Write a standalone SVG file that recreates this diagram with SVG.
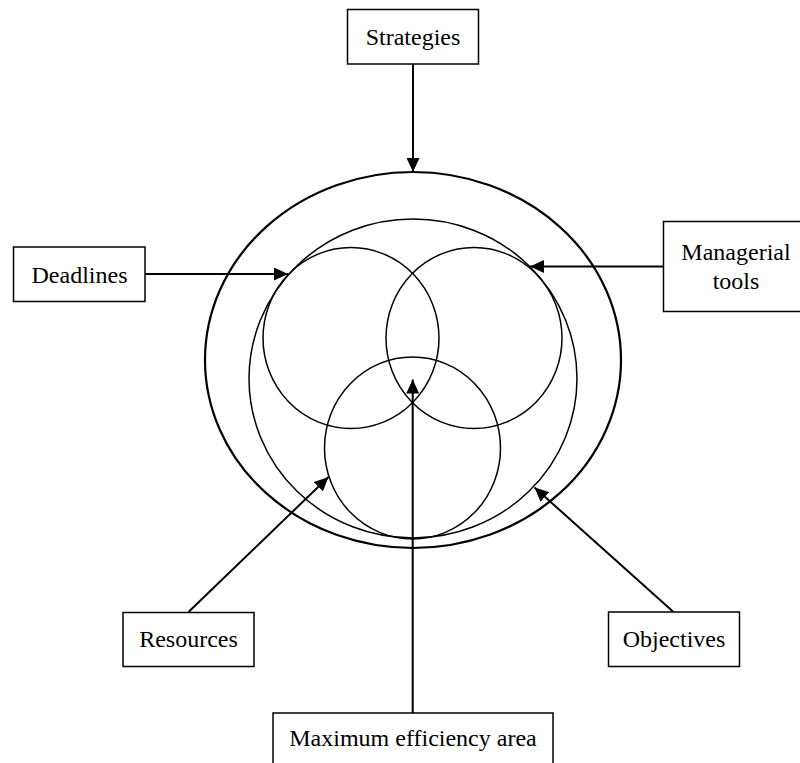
<svg xmlns="http://www.w3.org/2000/svg" width="800" height="763" viewBox="0 0 800 763">
<style>
.box{fill:#ffffff;stroke:#000;stroke-width:1.5}
.lbl{font-family:'Liberation Serif','Times New Roman',serif;font-size:24px;fill:#000;text-anchor:middle}
.c{fill:none;stroke:#000;stroke-width:1.5}
.outer{fill:none;stroke:#000;stroke-width:2.2}
.conn{fill:none;stroke:#000;stroke-width:2;marker-end:url(#ah)}
</style>
<defs>
<marker id="ah" markerUnits="userSpaceOnUse" markerWidth="14" markerHeight="13" refX="14" refY="6.5" orient="auto">
<path d="M0,0 L14,6.5 L0,13 z" fill="#000"/>
</marker>
</defs>
<rect width="800" height="763" fill="#ffffff"/>
<g id="circles">
<ellipse class="outer" cx="413" cy="360" rx="208" ry="188"/>
<ellipse class="c" cx="413" cy="378.5" rx="164" ry="159.5"/>
<ellipse class="c" cx="351" cy="338" rx="88" ry="90.5"/>
<ellipse class="c" cx="474" cy="338" rx="88" ry="90.5"/>
<ellipse class="c" cx="412.5" cy="448" rx="88" ry="91"/>
</g>
<g id="connectors">
<line class="conn" x1="413" y1="64" x2="413" y2="172"/>
<line class="conn" x1="145" y1="274" x2="288" y2="274"/>
<line class="conn" x1="663" y1="266.5" x2="530" y2="266.5"/>
<line class="conn" x1="188.5" y1="612" x2="328.5" y2="477"/>
<line class="conn" x1="673.5" y1="612" x2="534.5" y2="487.5"/>
<line class="conn" x1="412.7" y1="713" x2="412.7" y2="379.5"/>
</g>
<g id="strategies">
<rect class="box" x="347.5" y="9.5" width="131" height="54.5"/>
<text class="lbl" x="413" y="45">Strategies</text>
</g>
<g id="deadlines">
<rect class="box" x="13.5" y="247" width="131.5" height="54.5"/>
<text class="lbl" x="79.5" y="283">Deadlines</text>
</g>
<g id="managerial-tools">
<rect class="box" x="663.5" y="221.5" width="146" height="90"/>
<text class="lbl" x="736" y="260">Managerial</text>
<text class="lbl" x="736" y="288.5">tools</text>
</g>
<g id="resources">
<rect class="box" x="123" y="612.5" width="131" height="54"/>
<text class="lbl" x="188.5" y="647">Resources</text>
</g>
<g id="objectives">
<rect class="box" x="608.5" y="612" width="131" height="54.5"/>
<text class="lbl" x="674" y="647">Objectives</text>
</g>
<g id="maximum-efficiency-area">
<rect class="box" x="273" y="713" width="280" height="60"/>
<text class="lbl" x="413" y="746">Maximum efficiency area</text>
</g>
</svg>
